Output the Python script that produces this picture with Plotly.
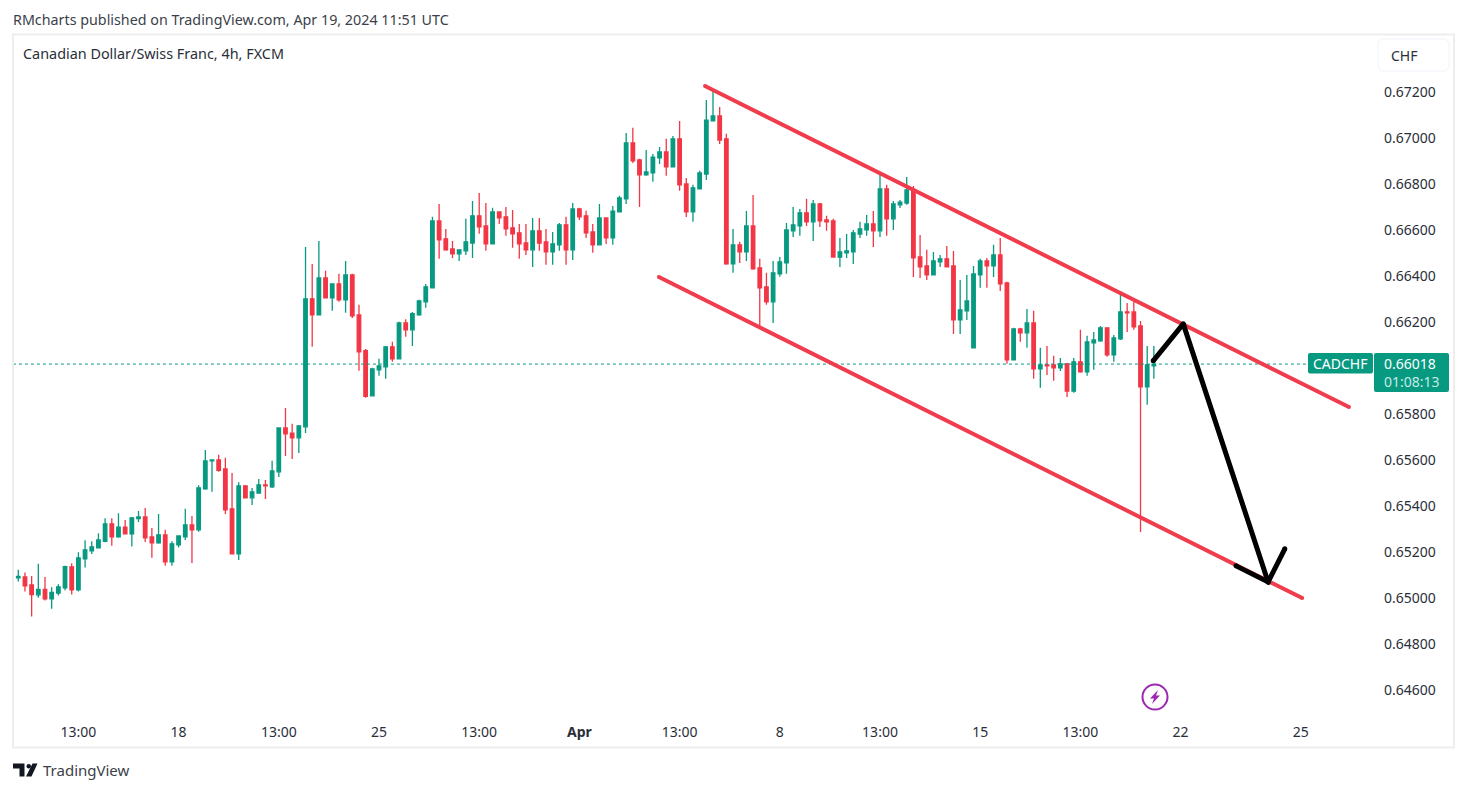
# CADCHF 4h candles with a falling channel and a projected path
import plotly.graph_objects as go

# OHLC values, one entry per 4h bar
opens = [
    0.65057, 0.65088, 0.65092, 0.65057, 0.65014, 0.65038, 0.64996, 0.65022, 0.65044, 0.65136,
    0.65036, 0.65170, 0.65205, 0.65218, 0.65247, 0.65323, 0.65266, 0.65309, 0.65279, 0.65346,
    0.65353, 0.65266, 0.65240, 0.65275, 0.65157, 0.65231, 0.65266, 0.65318, 0.65297, 0.65475,
    0.65597, 0.65601, 0.65562, 0.65388, 0.65192, 0.65488, 0.65436, 0.65457, 0.65492, 0.65484,
    0.65549, 0.65740, 0.65718, 0.65697, 0.65745, 0.66302, 0.66232, 0.66393, 0.66306, 0.66367,
    0.66298, 0.66406, 0.66232, 0.66076, 0.65880, 0.65993, 0.66006, 0.66093, 0.66041, 0.66197,
    0.66167, 0.66232, 0.66289, 0.66350, 0.66641, 0.66563, 0.66519, 0.66498, 0.66511, 0.66545,
    0.66663, 0.66619, 0.66541, 0.66680, 0.66659, 0.66611, 0.66589, 0.66545, 0.66515, 0.66598,
    0.66550, 0.66506, 0.66537, 0.66624, 0.66515, 0.66693, 0.66663, 0.66593, 0.66537, 0.66654,
    0.66567, 0.66680, 0.66737, 0.66980, 0.66906, 0.66841, 0.66850, 0.66915, 0.66941, 0.66876,
    0.66998, 0.66802, 0.66680, 0.66780, 0.66845, 0.67076, 0.67098, 0.66998, 0.66454, 0.66537,
    0.66506, 0.66619, 0.66437, 0.66354, 0.66289, 0.66411, 0.66458, 0.66598, 0.66619, 0.66676,
    0.66637, 0.66715, 0.66645, 0.66641, 0.66484, 0.66502, 0.66506, 0.66584, 0.66602, 0.66628,
    0.66598, 0.66780, 0.66650, 0.66711, 0.66719, 0.66776, 0.66484, 0.66445, 0.66406, 0.66463,
    0.66476, 0.66445, 0.66210, 0.66250, 0.66089, 0.66406, 0.66467, 0.66445, 0.66493, 0.66371,
    0.66036, 0.66171, 0.66154, 0.66197, 0.65997, 0.66015, 0.66015, 0.66002, 0.66019, 0.65901,
    0.66028, 0.65984, 0.66110, 0.66119, 0.66176, 0.66058, 0.66128, 0.66245, 0.66245, 0.66184,
    0.65919, 0.66010,
]
highs = [
    0.65086, 0.65123, 0.65111, 0.65096, 0.65149, 0.65092, 0.65047, 0.65060, 0.65140, 0.65151,
    0.65199, 0.65252, 0.65247, 0.65282, 0.65347, 0.65347, 0.65369, 0.65340, 0.65353, 0.65379,
    0.65392, 0.65305, 0.65366, 0.65297, 0.65247, 0.65270, 0.65388, 0.65357, 0.65491, 0.65644,
    0.65601, 0.65623, 0.65610, 0.65544, 0.65504, 0.65492, 0.65479, 0.65518, 0.65514, 0.65597,
    0.65742, 0.65827, 0.65758, 0.65753, 0.66528, 0.66454, 0.66554, 0.66424, 0.66370, 0.66411,
    0.66467, 0.66411, 0.66276, 0.66084, 0.66002, 0.66041, 0.66097, 0.66115, 0.66202, 0.66213,
    0.66245, 0.66298, 0.66367, 0.66659, 0.66715, 0.66606, 0.66554, 0.66515, 0.66650, 0.66728,
    0.66763, 0.66719, 0.66698, 0.66680, 0.66702, 0.66689, 0.66628, 0.66628, 0.66654, 0.66654,
    0.66606, 0.66593, 0.66632, 0.66659, 0.66719, 0.66698, 0.66685, 0.66628, 0.66715, 0.66654,
    0.66706, 0.66750, 0.67024, 0.67046, 0.66911, 0.66950, 0.66932, 0.66963, 0.66998, 0.67011,
    0.67076, 0.66828, 0.66798, 0.66859, 0.67167, 0.67215, 0.67137, 0.67020, 0.66606, 0.66550,
    0.66684, 0.66754, 0.66476, 0.66415, 0.66467, 0.66484, 0.66632, 0.66702, 0.66693, 0.66737,
    0.66732, 0.66719, 0.66663, 0.66650, 0.66567, 0.66584, 0.66602, 0.66637, 0.66667, 0.66684,
    0.66841, 0.66798, 0.66728, 0.66732, 0.66832, 0.66793, 0.66580, 0.66515, 0.66506, 0.66493,
    0.66532, 0.66510, 0.66384, 0.66406, 0.66445, 0.66476, 0.66480, 0.66537, 0.66567, 0.66376,
    0.66176, 0.66176, 0.66258, 0.66250, 0.66089, 0.66097, 0.66054, 0.66045, 0.66023, 0.66045,
    0.66167, 0.66141, 0.66158, 0.66184, 0.66176, 0.66145, 0.66336, 0.66284, 0.66289, 0.66206,
    0.66097, 0.66097,
]
lows = [
    0.65057, 0.65072, 0.65028, 0.64920, 0.65001, 0.64989, 0.64953, 0.65011, 0.65034, 0.65015,
    0.65028, 0.65133, 0.65192, 0.65218, 0.65243, 0.65228, 0.65262, 0.65279, 0.65224, 0.65331,
    0.65244, 0.65175, 0.65236, 0.65140, 0.65140, 0.65220, 0.65253, 0.65153, 0.65288, 0.65471,
    0.65462, 0.65549, 0.65366, 0.65192, 0.65166, 0.65436, 0.65405, 0.65457, 0.65431, 0.65479,
    0.65527, 0.65618, 0.65605, 0.65631, 0.65718, 0.66093, 0.66232, 0.66306, 0.66250, 0.66289,
    0.66241, 0.66219, 0.65989, 0.65871, 0.65880, 0.65967, 0.65954, 0.66028, 0.66041, 0.66137,
    0.66097, 0.66228, 0.66263, 0.66350, 0.66476, 0.66511, 0.66480, 0.66467, 0.66493, 0.66480,
    0.66585, 0.66511, 0.66541, 0.66628, 0.66576, 0.66524, 0.66476, 0.66493, 0.66441, 0.66511,
    0.66450, 0.66450, 0.66511, 0.66450, 0.66471, 0.66645, 0.66567, 0.66502, 0.66537, 0.66541,
    0.66537, 0.66680, 0.66715, 0.66893, 0.66702, 0.66837, 0.66811, 0.66889, 0.66837, 0.66876,
    0.66772, 0.66658, 0.66637, 0.66780, 0.66819, 0.67076, 0.66976, 0.66450, 0.66415, 0.66458,
    0.66467, 0.66428, 0.66181, 0.66276, 0.66197, 0.66398, 0.66411, 0.66571, 0.66576, 0.66619,
    0.66554, 0.66615, 0.66598, 0.66484, 0.66441, 0.66480, 0.66454, 0.66567, 0.66576, 0.66528,
    0.66571, 0.66576, 0.66602, 0.66697, 0.66711, 0.66397, 0.66393, 0.66384, 0.66406, 0.66441,
    0.66441, 0.66149, 0.66149, 0.66210, 0.66089, 0.66350, 0.66350, 0.66397, 0.66336, 0.66019,
    0.66036, 0.66115, 0.66089, 0.65954, 0.65915, 0.65971, 0.65945, 0.65988, 0.65875, 0.65893,
    0.65980, 0.65967, 0.65993, 0.66115, 0.66050, 0.66028, 0.66123, 0.66158, 0.66167, 0.65287,
    0.65841, 0.65954,
]
closes = [
    0.65086, 0.65094, 0.65053, 0.65015, 0.65038, 0.64996, 0.65025, 0.65049, 0.65137, 0.65036,
    0.65175, 0.65210, 0.65223, 0.65253, 0.65323, 0.65266, 0.65309, 0.65279, 0.65349, 0.65353,
    0.65262, 0.65240, 0.65275, 0.65157, 0.65236, 0.65270, 0.65318, 0.65297, 0.65479, 0.65597,
    0.65601, 0.65556, 0.65384, 0.65192, 0.65488, 0.65436, 0.65462, 0.65492, 0.65488, 0.65553,
    0.65740, 0.65714, 0.65697, 0.65749, 0.66302, 0.66232, 0.66393, 0.66306, 0.66367, 0.66298,
    0.66406, 0.66228, 0.66071, 0.65878, 0.65997, 0.66010, 0.66093, 0.66041, 0.66197, 0.66167,
    0.66237, 0.66293, 0.66354, 0.66641, 0.66559, 0.66515, 0.66498, 0.66515, 0.66550, 0.66663,
    0.66615, 0.66541, 0.66680, 0.66654, 0.66606, 0.66585, 0.66541, 0.66515, 0.66598, 0.66545,
    0.66506, 0.66541, 0.66624, 0.66515, 0.66693, 0.66659, 0.66589, 0.66537, 0.66654, 0.66567,
    0.66684, 0.66741, 0.66980, 0.66902, 0.66841, 0.66854, 0.66919, 0.66941, 0.66876, 0.66998,
    0.66798, 0.66680, 0.66785, 0.66850, 0.67080, 0.67098, 0.66993, 0.66454, 0.66537, 0.66506,
    0.66619, 0.66432, 0.66350, 0.66289, 0.66415, 0.66463, 0.66602, 0.66624, 0.66676, 0.66637,
    0.66715, 0.66641, 0.66637, 0.66484, 0.66506, 0.66511, 0.66589, 0.66606, 0.66628, 0.66598,
    0.66780, 0.66650, 0.66715, 0.66723, 0.66776, 0.66480, 0.66441, 0.66406, 0.66467, 0.66476,
    0.66441, 0.66210, 0.66254, 0.66293, 0.66410, 0.66467, 0.66445, 0.66493, 0.66367, 0.66036,
    0.66171, 0.66154, 0.66197, 0.65997, 0.66015, 0.66010, 0.66002, 0.66019, 0.65901, 0.66028,
    0.65984, 0.66115, 0.66123, 0.66176, 0.66058, 0.66132, 0.66245, 0.66241, 0.66180, 0.65919,
    0.66015, 0.66018,
]
bars = list(range(len(closes)))

# Axis ticks (0.66000 sits under the price label in the original, so it is left out)
bar_ticks = [10, 25, 40, 55, 70, 85, 100, 115, 130, 145, 160, 175, 193]
bar_labels = ["13:00", "18", "13:00", "25", "13:00", "<b>Apr</b>", "13:00", "8", "13:00", "15", "13:00", "22", "25"]
price_ticks = [0.646, 0.648, 0.650, 0.652, 0.654, 0.656, 0.658, 0.662, 0.664, 0.666, 0.668, 0.670, 0.672]

# Hand drawn channel and path, as bar number / price
upper_bars = [103.8, 200.2]
upper_prices = [0.67228, 0.65831]
lower_bars = [96.9, 193.2]
lower_prices = [0.66397, 0.65000]
path_bars = [170.9, 175.4, 188.1]
path_prices = [0.66032, 0.66193, 0.65070]
head_bars = [183.3, 188.1, 190.6]
head_prices = [0.65140, 0.65070, 0.65214]

GREEN = "#089981"
RED = "#f23645"
FONT = "Noto Sans"
TEXT = "#2a2e39"

# plot area in page pixels
L, R, T, B = 13, 1381, 35, 718


def px(x):
    return (x - L) / (R - L)


def py(y):
    return (B - y) / (B - T)


fig = go.Figure()
fig.add_trace(go.Scatter(x=[0.2, 193.9], y=[closes[-1], closes[-1]], mode="lines",
                         line=dict(color=GREEN, width=1, dash="dot"), hoverinfo="skip"))
fig.add_trace(go.Candlestick(x=bars, open=opens, high=highs, low=lows, close=closes,
                             increasing=dict(line=dict(color=GREEN, width=1.3), fillcolor=GREEN),
                             decreasing=dict(line=dict(color=RED, width=1.3), fillcolor=RED),
                             whiskerwidth=0))
for xs, ys, col, w in [(upper_bars, upper_prices, "#ef3d4e", 4),
                       (lower_bars, lower_prices, "#ef3d4e", 4),
                       (path_bars, path_prices, "black", 5),
                       (head_bars, head_prices, "black", 5)]:
    fig.add_trace(go.Scatter(x=xs, y=ys, mode="lines+markers",
                             line=dict(color=col, width=w),
                             marker=dict(color=col, size=w), hoverinfo="skip"))


def rounded(x0, y0, x1, y1, r):
    return (f"M {px(x0 + r)} {py(y0)} L {px(x1 - r)} {py(y0)} Q {px(x1)} {py(y0)} {px(x1)} {py(y0 + r)} "
            f"L {px(x1)} {py(y1 - r)} Q {px(x1)} {py(y1)} {px(x1 - r)} {py(y1)} "
            f"L {px(x0 + r)} {py(y1)} Q {px(x0)} {py(y1)} {px(x0)} {py(y1 - r)} "
            f"L {px(x0)} {py(y0 + r)} Q {px(x0)} {py(y0)} {px(x0 + r)} {py(y0)} Z")


def poly(points):
    return "M " + " L ".join(f"{px(x)} {py(y)}" for x, y in points) + " Z"


paper = dict(xref="paper", yref="paper")
shapes = [
    # panel border
    dict(type="rect", x0=px(13), x1=px(1454), y0=py(34.5), y1=py(747.5),
         line=dict(color="#eeeeee", width=2), **paper),
    # currency button
    dict(type="path", path=rounded(1378, 39, 1449, 71, 6), line=dict(color="#f0f3fa", width=1),
         fillcolor="white", **paper),
    # price labels
    dict(type="path", path=rounded(1308, 353, 1373, 373.5, 2), line=dict(width=0), fillcolor=GREEN, **paper),
    dict(type="path", path=rounded(1374, 353, 1449, 392, 2), line=dict(width=0), fillcolor=GREEN, **paper),
    # purple event marker
    dict(type="circle", x0=px(1142.5), x1=px(1167.5), y0=py(684.5), y1=py(709.5),
         line=dict(color="#9c27b0", width=2), fillcolor="white", **paper),
    dict(type="path", path=poly([(1158, 690), (1150, 698.5), (1154, 698.5), (1152, 704), (1160, 695.5), (1156, 695.5)]),
         line=dict(width=0), fillcolor="#9c27b0", **paper),
    # TradingView logo
    dict(type="path", path=poly([(13, 763.5), (24.5, 763.5), (24.5, 776.5), (19.5, 776.5), (19.5, 768.5), (13, 768.5)]),
         line=dict(width=0), fillcolor="#131722", **paper),
    dict(type="circle", x0=px(26.5), x1=px(31), y0=py(764), y1=py(768.5), line=dict(width=0),
         fillcolor="#131722", **paper),
    dict(type="path", path=poly([(32.5, 763.5), (37.5, 763.5), (31.5, 776.5), (26, 776.5)]),
         line=dict(width=0), fillcolor="#131722", **paper),
]


def label(x, y, text, size=14, color=TEXT, anchor="left"):
    return dict(x=px(x - 2), y=py(y), text=text, showarrow=False, xanchor=anchor, yanchor="middle",
                align="left", font=dict(family=FONT, size=size, color=color), xref="paper", yref="paper")


annotations = [
    label(13, 19, "RMcharts published on TradingView.com, Apr 19, 2024 11:51 UTC", size=14.3, color="#3b3f4a"),
    label(23, 54, "Canadian Dollar/Swiss Franc, 4h, FXCM", size=14.4),
    label(1391, 55, "CHF"),
    label(1313, 363, "CADCHF", color="white"),
    label(1384, 372.5, "0.66018<br><span style='color:#c4ebe3'>01:08:13</span>", color="white"),
    label(43, 770, "TradingView", size=15, color="#3b3f4a"),
]

fig.update_layout(
    width=1467, height=792, showlegend=False, plot_bgcolor="white", paper_bgcolor="white",
    margin=dict(l=L, r=1467 - R, t=T, b=792 - B, pad=0),
    font=dict(family=FONT, size=14, color=TEXT),
    boxgap=0.25, shapes=shapes, annotations=annotations,
    xaxis=dict(range=[0.21, 205.0], tickvals=bar_ticks, ticktext=bar_labels, showgrid=False,
               zeroline=False, showline=False, ticks="", rangeslider=dict(visible=False), tickangle=0,
               ticklabelstandoff=4),
    yaxis=dict(range=[0.64478, 0.67450], tickvals=price_ticks, tickformat=".5f", side="right",
               showgrid=False, zeroline=False, showline=False, ticks="", ticklabelstandoff=2),
)

# drop the page's default body margin so the figure sits at the top left corner
fig.write_html("out.html", config=dict(displayModeBar=False),
               post_script="document.body.style.margin='0';")
